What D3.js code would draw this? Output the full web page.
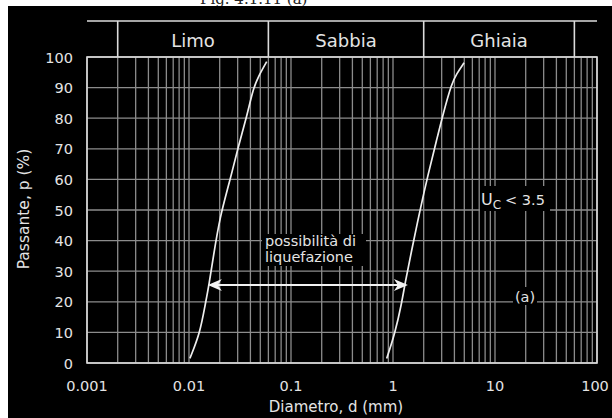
<!DOCTYPE html>
<html>
<head>
<meta charset="utf-8">
<script src="https://cdn.jsdelivr.net/npm/d3@7"></script>
<style>
  html, body { margin: 0; padding: 0; background: #fff; }
  svg { display: block; }
  text { font-family: "DejaVu Sans", "Liberation Sans", sans-serif; fill: #e4e4e4; }
</style>
</head>
<body>
<svg id="chart" width="612" height="418"></svg>
<script>
  // grading curves (diameter in mm, passing in %)
  const leftCurveD = [0.0102, 0.0128, 0.0144, 0.0158, 0.0173, 0.0201, 0.0248, 0.0304, 0.0368, 0.0427, 0.0478, 0.0578];
  const leftCurveP = [1.5, 9.7, 19, 26, 34.7, 47.8, 58.7, 70.7, 80.5, 89.8, 93.6, 98.5];
  const rightCurveD = [0.867, 1.046, 1.216, 1.311, 1.525, 1.84, 2.22, 2.68, 3.11, 3.76, 4.2, 4.97];
  const rightCurveP = [1.5, 9.7, 19.5, 26, 36.9, 50, 62, 72.9, 81.6, 91.4, 94.5, 98.1];

  const xTicks = [0.001, 0.01, 0.1, 1, 10, 100];
  const xTickLabels = ['0.001', '0.01', '0.1', '1', '10', '100'];
  const yTicks = [0, 10, 20, 30, 40, 50, 60, 70, 80, 90, 100];

  const soilBounds = [0.002, 0.06, 2, 60];
  const soilNames = ['Limo', 'Sabbia', 'Ghiaia'];

  const arrowD = [0.0153, 1.4];
  const arrowP = 25.5;

  (function () {
    const svg = d3.select('#chart');
    const plotLeft = 87, plotRight = 597, plotTop = 57, plotBottom = 363, headTop = 21;

    const x = d3.scaleLog().domain([0.001, 100]).range([plotLeft, plotRight]);
    const y = d3.scaleLinear().domain([0, 100]).range([plotBottom, plotTop]);

    // caption strip (cut off at the top, as in the scan)
    svg.append('text')
      .attr('x', 200).attr('y', 4)
      .style('font-family', '"DejaVu Serif", "Liberation Serif", serif')
      .style('font-size', '15px')
      .style('fill', '#222')
      .text('Fig. 4.1.11 (a)');

    svg.append('rect')
      .attr('x', 8).attr('y', 6).attr('width', 604).attr('height', 412)
      .attr('fill', '#000');

    // grid lines
    const minor = [];
    for (let e = -3; e <= 1; e++) {
      for (let k = 1; k <= 9; k++) minor.push(k * Math.pow(10, e));
    }
    minor.push(100);

    svg.append('g')
      .selectAll('line')
      .data(minor)
      .enter()
      .append('line')
      .attr('x1', function (d) { return x(d); })
      .attr('x2', function (d) { return x(d); })
      .attr('y1', plotTop).attr('y2', plotBottom)
      .attr('stroke', '#8c8c8c')
      .attr('stroke-width', 1.3);

    svg.append('g')
      .selectAll('line')
      .data(yTicks)
      .enter()
      .append('line')
      .attr('x1', plotLeft).attr('x2', plotRight)
      .attr('y1', function (d) { return y(d); })
      .attr('y2', function (d) { return y(d); })
      .attr('stroke', '#8c8c8c')
      .attr('stroke-width', 1.3);

    // plot frame
    svg.append('rect')
      .attr('x', plotLeft).attr('y', plotTop)
      .attr('width', plotRight - plotLeft).attr('height', plotBottom - plotTop)
      .attr('fill', 'none')
      .attr('stroke', '#dcdcdc')
      .attr('stroke-width', 1.6);

    // soil classes header
    const head = svg.append('g');
    head.append('line')
      .attr('x1', plotLeft).attr('x2', plotRight)
      .attr('y1', headTop).attr('y2', headTop)
      .attr('stroke', '#dcdcdc').attr('stroke-width', 1.6);
    head.selectAll('.div')
      .data(soilBounds)
      .enter()
      .append('line')
      .attr('class', 'div')
      .attr('x1', function (d) { return x(d); })
      .attr('x2', function (d) { return x(d); })
      .attr('y1', headTop).attr('y2', plotTop)
      .attr('stroke', '#dcdcdc').attr('stroke-width', 1.6);
    head.selectAll('text')
      .data(soilNames)
      .enter()
      .append('text')
      .attr('x', function (d, i) { return (x(soilBounds[i]) + x(soilBounds[i + 1])) / 2; })
      .attr('y', 47)
      .attr('text-anchor', 'middle')
      .style('font-size', '18px')
      .text(function (d) { return d; });

    // axes labels
    svg.append('g')
      .selectAll('text')
      .data(yTicks)
      .enter()
      .append('text')
      .attr('x', 73)
      .attr('y', function (d) { return y(d) + 5.5; })
      .attr('text-anchor', 'end')
      .style('font-size', '14.5px')
      .text(function (d) { return d; });

    svg.append('g')
      .selectAll('text')
      .data(xTicks)
      .enter()
      .append('text')
      .attr('x', function (d, i) { return x(d) - (i === xTicks.length - 1 ? 2 : 0); })
      .attr('y', 391)
      .attr('text-anchor', 'middle')
      .style('font-size', '14.5px')
      .text(function (d, i) { return xTickLabels[i]; });

    svg.append('text')
      .attr('x', 336).attr('y', 412)
      .attr('text-anchor', 'middle')
      .style('font-size', '15px')
      .text('Diametro, d (mm)');

    svg.append('text')
      .attr('transform', 'translate(29,209) rotate(-90)')
      .attr('text-anchor', 'middle')
      .style('font-size', '15.5px')
      .text('Passante, p (%)');

    // grading curves, smoothed through the read points
    const line = d3.line()
      .x(function (d) { return x(d[0]); })
      .y(function (d) { return y(d[1]); })
      .curve(d3.curveBasis);

    [[leftCurveD, leftCurveP], [rightCurveD, rightCurveP]].forEach(function (c) {
      svg.append('path')
        .datum(d3.zip(c[0], c[1]))
        .attr('d', line)
        .attr('fill', 'none')
        .attr('stroke', '#eeeeee')
        .attr('stroke-width', 1.7);
    });

    // labels with black boxes
    function boxedText(lines, bx, by, w, h, tx, ty, size, anchor) {
      svg.append('rect')
        .attr('x', bx).attr('y', by).attr('width', w).attr('height', h)
        .attr('fill', '#000');
      lines.forEach(function (t, i) {
        svg.append('text')
          .attr('x', tx).attr('y', ty + i * 16)
          .attr('text-anchor', anchor)
          .style('font-size', size + 'px')
          .text(t);
      });
    }

    boxedText(['possibilità di', 'liquefazione'], 262, 234, 104, 32, 265, 246, 14.5, 'start');
    boxedText(['(a)'], 513, 287, 24, 18, 525, 302, 14.5, 'middle');

    svg.append('rect')
      .attr('x', 480).attr('y', 186).attr('width', 70).attr('height', 25)
      .attr('fill', '#000');
    const uc = svg.append('text').attr('x', 481).attr('y', 205).style('font-size', '16px');
    uc.append('tspan').text('U');
    uc.append('tspan').attr('dy', 4).style('font-size', '12px').text('C');
    uc.append('tspan').attr('dy', -4).attr('dx', 4).style('font-size', '14.5px').text('< 3.5');

    // double arrow
    const ay = y(arrowP);
    const x1 = x(arrowD[0]), x2 = x(arrowD[1]);
    svg.append('line')
      .attr('x1', x1 + 2).attr('x2', x2 - 2)
      .attr('y1', ay).attr('y2', ay)
      .attr('stroke', '#f2f2f2').attr('stroke-width', 2);
    [[x1, 1], [x2, -1]].forEach(function (a) {
      svg.append('path')
        .attr('d', 'M' + a[0] + ',' + ay +
          'L' + (a[0] + a[1] * 14) + ',' + (ay - 6) +
          'L' + (a[0] + a[1] * 10) + ',' + ay +
          'L' + (a[0] + a[1] * 14) + ',' + (ay + 6) + 'Z')
        .attr('fill', '#f2f2f2');
    });
  })();
</script>
</body>
</html>
